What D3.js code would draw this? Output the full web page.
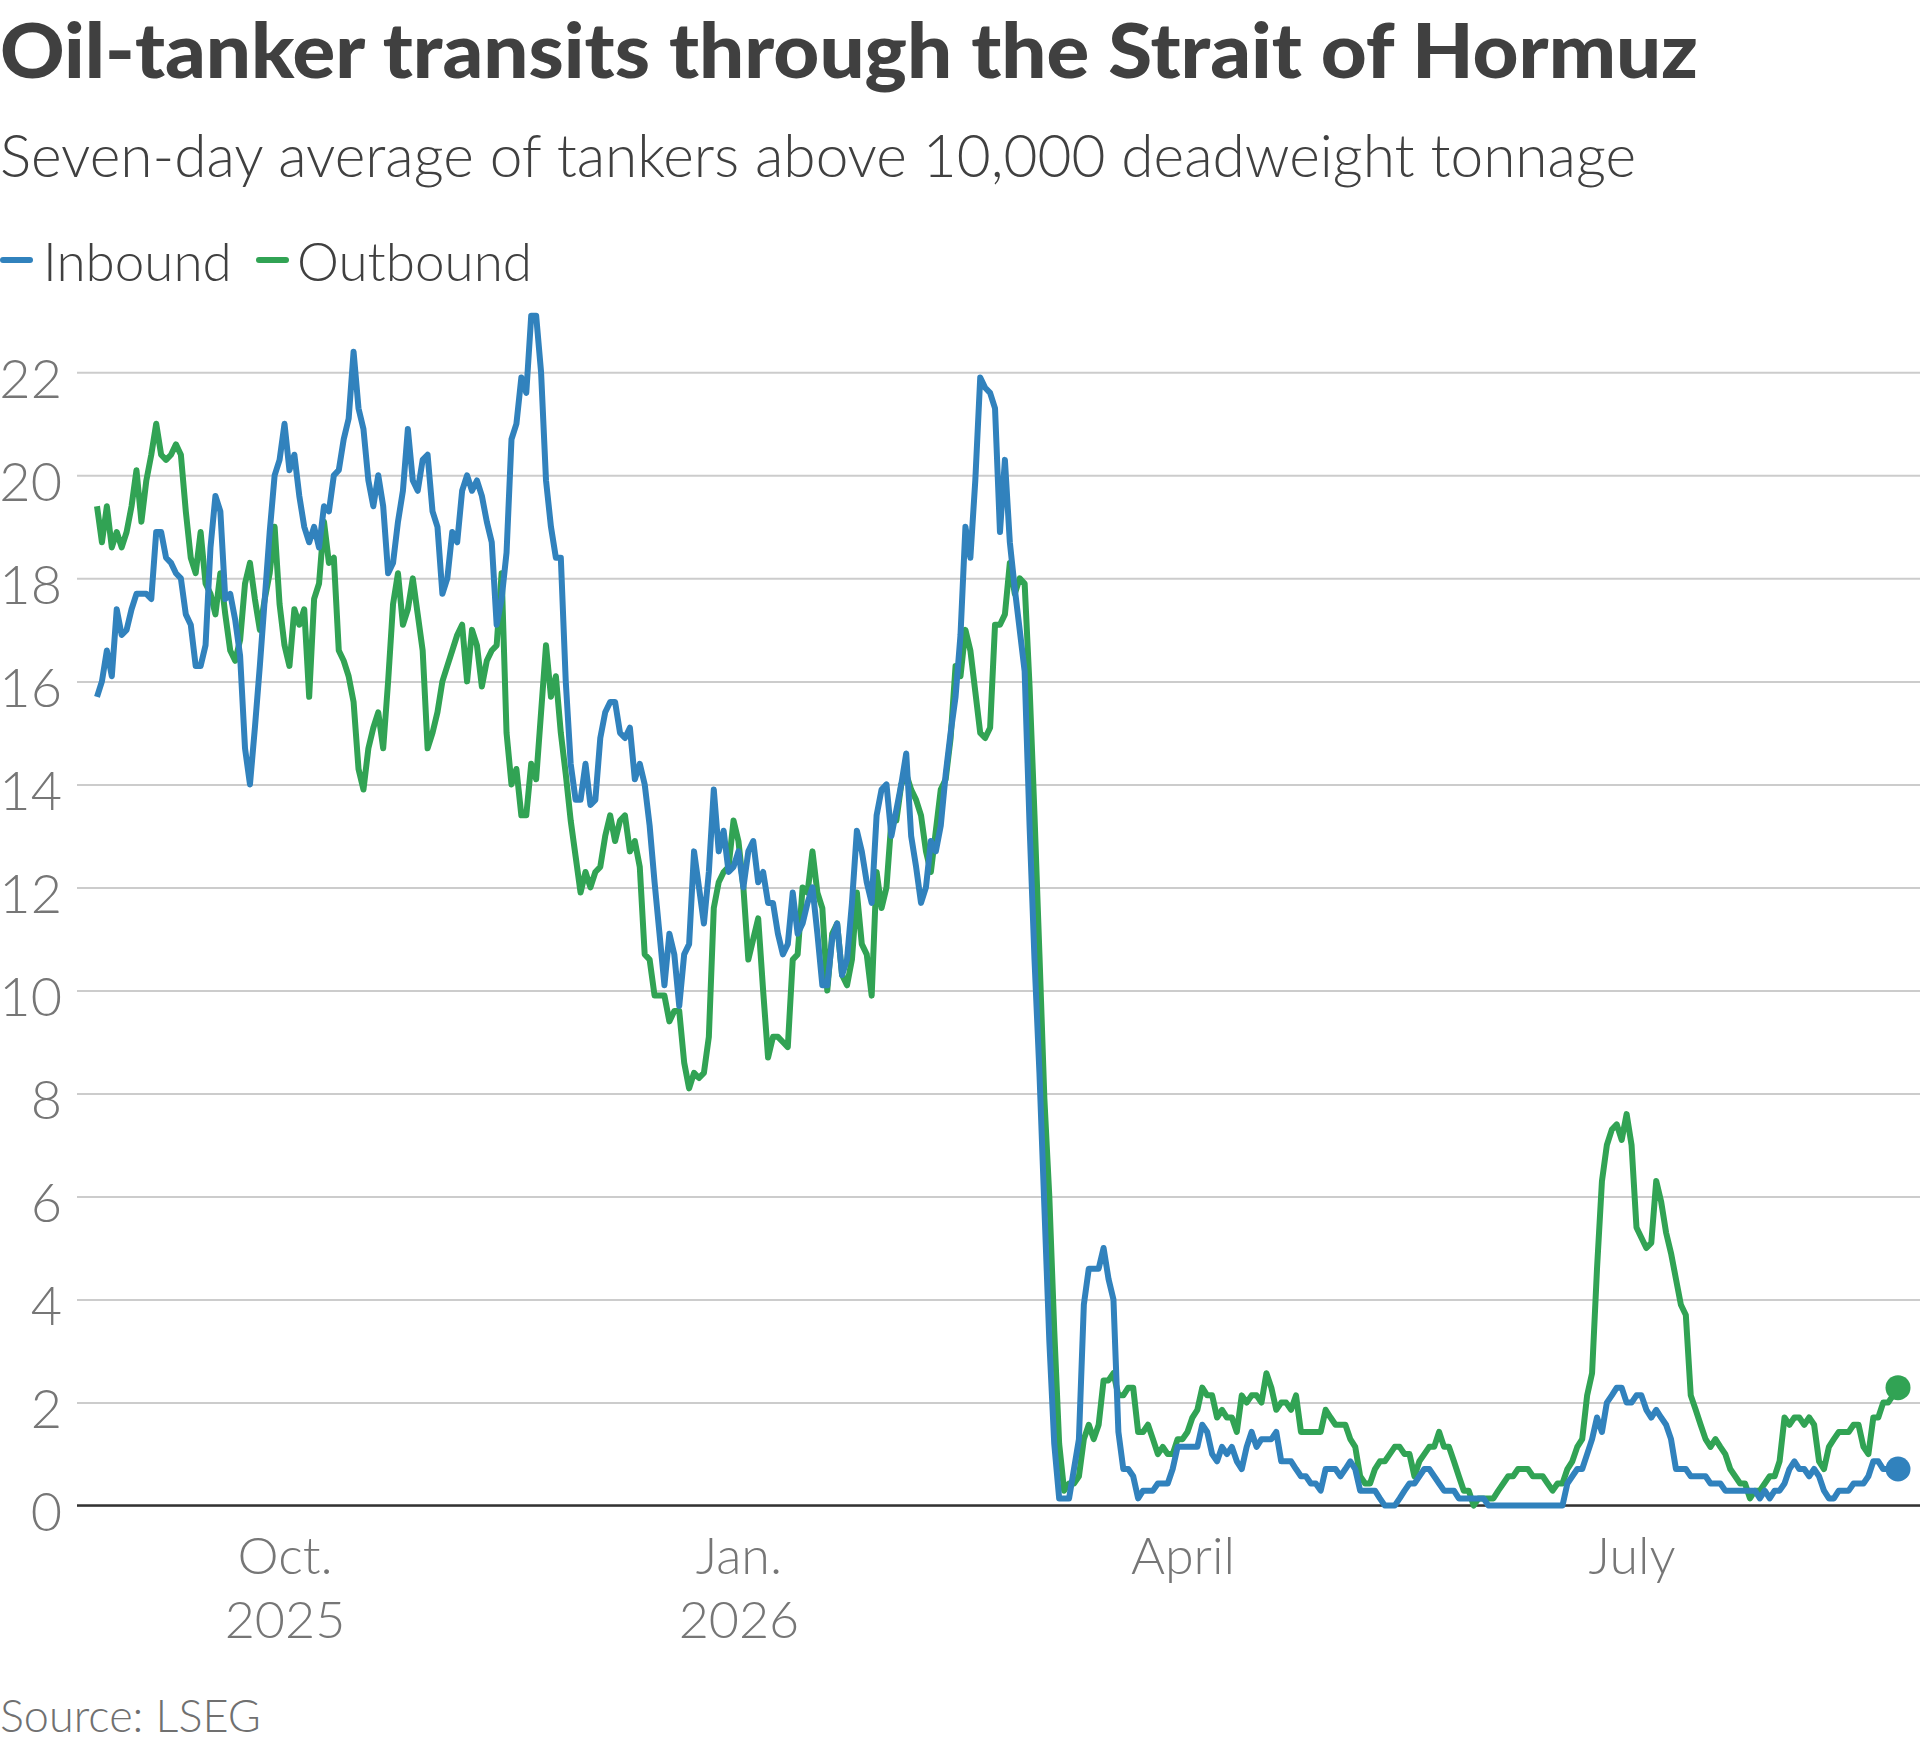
<!DOCTYPE html>
<html>
<head>
<meta charset="utf-8">
<script src="https://cdn.jsdelivr.net/npm/d3@7"></script>
<style>
  html, body { margin: 0; padding: 0; background: #fff; }
  svg { display: block; font-family: Lato, "Open Sans", sans-serif; }
</style>
</head>
<body>
<svg id="chart" width="1920" height="1747"></svg>
<script>
// seven-day averages, [day since start, tankers]
const startDate = new Date(2025, 7, 24);
const endDay = 365;

const inbound = [
  [0,15.7],[1,16.0],[2,16.6],[3,16.1],[4,17.4],[5,16.9],[6,17.0],[7,17.4],[8,17.7],[10,17.7],
  [11,17.6],[12,18.9],[13,18.9],[14,18.4],[15,18.3],[16,18.1],[17,18.0],[18,17.3],[19,17.1],[20,16.3],
  [21,16.3],[22,16.7],[23,18.6],[24,19.6],[25,19.3],[26,17.6],[27,17.7],[28,17.2],[29,16.5],[30,14.7],
  [31,14.0],[32,15.1],[33,16.3],[34,17.6],[35,18.9],[36,20.0],[37,20.3],[38,21.0],[39,20.1],[40,20.4],
  [41,19.6],[42,19.0],[43,18.7],[44,19.0],[45,18.6],[46,19.4],[47,19.3],[48,20.0],[49,20.1],[50,20.7],
  [51,21.1],[52,22.4],[53,21.3],[54,20.9],[55,19.9],[56,19.4],[57,20.0],[58,19.4],[59,18.1],[60,18.3],
  [61,19.1],[62,19.7],[63,20.9],[64,19.9],[65,19.7],[66,20.3],[67,20.4],[68,19.3],[69,19.0],[70,17.7],
  [71,18.0],[72,18.9],[73,18.7],[74,19.7],[75,20.0],[76,19.7],[77,19.9],[78,19.6],[79,19.1],[80,18.7],
  [81,17.1],[82,17.6],[83,18.5],[84,20.7],[85,21.0],[86,21.9],[87,21.6],[88,23.1],[89,23.1],[90,22.0],
  [91,19.9],[92,19.0],[93,18.4],[94,18.4],[95,16.0],[96,14.4],[97,13.7],[98,13.7],[99,14.4],[100,13.6],
  [101,13.7],[102,14.9],[103,15.4],[104,15.6],[105,15.6],[106,15.0],[107,14.9],[108,15.1],[109,14.1],[110,14.4],
  [111,14.0],[112,13.2],[113,12.1],[114,11.1],[115,10.1],[116,11.1],[117,10.7],[118,9.7],[119,10.7],[120,10.9],
  [121,12.7],[122,12.0],[123,11.3],[124,12.3],[125,13.9],[126,12.7],[127,13.1],[128,12.3],[129,12.4],[130,12.7],
  [131,12.0],[132,12.7],[133,12.9],[134,12.1],[135,12.3],[136,11.7],[137,11.7],[138,11.1],[139,10.7],[140,10.9],
  [141,11.9],[142,11.1],[143,11.3],[144,11.7],[145,12.0],[146,11.1],[147,10.1],[148,10.1],[149,11.0],[150,11.3],
  [151,10.3],[152,10.6],[153,11.7],[154,13.1],[155,12.7],[156,12.1],[157,11.7],[158,13.4],[159,13.9],[160,14.0],
  [161,13.0],[162,13.5],[163,14.0],[164,14.6],[165,13.0],[166,12.4],[167,11.7],[168,12.0],[169,12.9],[170,12.7],
  [171,13.2],[172,14.2],[173,15.0],[174,15.7],[175,16.9],[176,19.0],[177,18.4],[178,19.9],[179,21.9],[180,21.7],
  [181,21.6],[182,21.3],[183,18.9],[184,20.3],[185,18.7],[186,17.8],[187,17.0],[188,16.2],[189,13.2],[190,10.6],
  [191,8.4],[192,5.8],[193,3.2],[194,1.2],[195,0.14],[196,0.14],[197,0.14],[198,0.71],[199,1.29],[200,3.9],
  [201,4.6],[202,4.6],[203,4.6],[204,5.0],[205,4.4],[206,4.0],[207,1.43],[208,0.71],[209,0.71],[210,0.57],
  [211,0.14],[212,0.29],[213,0.29],[214,0.29],[215,0.43],[216,0.43],[217,0.43],[218,0.71],[219,1.14],[220,1.14],
  [221,1.14],[222,1.14],[223,1.14],[224,1.57],[225,1.43],[226,1.0],[227,0.86],[228,1.14],[229,1.0],[230,1.14],
  [231,0.86],[232,0.71],[233,1.14],[234,1.43],[235,1.14],[236,1.29],[237,1.29],[238,1.29],[239,1.43],[240,0.86],
  [241,0.86],[242,0.86],[243,0.71],[244,0.57],[245,0.57],[246,0.43],[247,0.43],[248,0.29],[249,0.71],[250,0.71],
  [251,0.71],[252,0.57],[253,0.71],[254,0.86],[255,0.71],[256,0.29],[257,0.29],[258,0.29],[259,0.29],[260,0.14],
  [261,0],[262,0],[263,0],[264,0.14],[265,0.29],[266,0.43],[267,0.43],[268,0.57],[269,0.71],[270,0.71],
  [271,0.57],[272,0.43],[273,0.29],[274,0.29],[275,0.29],[276,0.14],[277,0.14],[278,0.14],[279,0.14],[280,0.14],
  [281,0.14],[282,0],[283,0],[284,0],[285,0],[286,0],[287,0],[288,0],[289,0],[290,0],
  [291,0],[292,0],[293,0],[294,0],[295,0],[296,0],[297,0],[298,0.43],[299,0.57],[300,0.71],
  [301,0.71],[302,1.0],[303,1.29],[304,1.71],[305,1.43],[306,2.0],[307,2.14],[308,2.29],[309,2.29],[310,2.0],
  [311,2.0],[312,2.14],[313,2.14],[314,1.86],[315,1.71],[316,1.86],[317,1.71],[318,1.57],[319,1.29],[320,0.71],
  [321,0.71],[322,0.71],[323,0.57],[324,0.57],[325,0.57],[326,0.57],[327,0.43],[328,0.43],[329,0.43],[330,0.29],
  [331,0.29],[332,0.29],[333,0.29],[334,0.29],[335,0.29],[336,0.29],[337,0.14],[338,0.29],[339,0.14],[340,0.29],
  [341,0.29],[342,0.43],[343,0.71],[344,0.86],[345,0.71],[346,0.71],[347,0.57],[348,0.71],[349,0.57],[350,0.29],
  [351,0.14],[352,0.14],[353,0.29],[354,0.29],[355,0.29],[356,0.43],[357,0.43],[358,0.43],[359,0.57],[360,0.86],
  [361,0.86],[362,0.71],[363,0.71],[364,0.71],[365,0.71]
];

const outbound = [
  [0,19.4],[1,18.7],[2,19.4],[3,18.6],[4,18.9],[5,18.6],[6,18.9],[7,19.4],[8,20.1],[9,19.1],
  [10,19.9],[11,20.4],[12,21.0],[13,20.4],[14,20.3],[15,20.4],[16,20.6],[17,20.4],[18,19.3],[19,18.4],
  [20,18.1],[21,18.9],[22,17.9],[23,17.7],[24,17.3],[25,18.1],[26,17.3],[27,16.6],[28,16.4],[29,16.8],
  [30,17.9],[31,18.3],[32,17.6],[33,17.0],[34,17.6],[35,18.1],[36,19.0],[37,17.5],[38,16.7],[39,16.3],
  [40,17.4],[41,17.1],[42,17.4],[43,15.7],[44,17.6],[45,17.9],[46,19.1],[47,18.3],[48,18.4],[49,16.6],
  [50,16.4],[51,16.1],[52,15.6],[53,14.3],[54,13.9],[55,14.7],[56,15.1],[57,15.4],[58,14.7],[59,16.0],
  [60,17.5],[61,18.1],[62,17.1],[63,17.4],[64,18.0],[65,17.3],[66,16.6],[67,14.7],[68,15.0],[69,15.4],
  [70,16.0],[71,16.3],[72,16.6],[73,16.9],[74,17.1],[75,16.0],[76,17.0],[77,16.7],[78,15.9],[79,16.4],
  [80,16.6],[81,16.7],[82,18.1],[83,15.0],[84,14.0],[85,14.3],[86,13.4],[87,13.4],[88,14.4],[89,14.1],
  [90,15.4],[91,16.7],[92,15.7],[93,16.1],[94,15.0],[95,14.2],[96,13.3],[97,12.6],[98,11.9],[99,12.3],
  [100,12.0],[101,12.3],[102,12.4],[103,13.0],[104,13.4],[105,12.9],[106,13.3],[107,13.4],[108,12.7],[109,12.9],
  [110,12.4],[111,10.7],[112,10.6],[113,9.9],[114,9.9],[115,9.9],[116,9.4],[117,9.6],[118,9.6],[119,8.6],
  [120,8.1],[121,8.4],[122,8.3],[123,8.4],[124,9.1],[125,11.6],[126,12.1],[127,12.3],[128,12.4],[129,13.3],
  [130,12.9],[131,12.0],[132,10.6],[133,11.0],[134,11.4],[135,10.0],[136,8.7],[137,9.1],[138,9.1],[139,9.0],
  [140,8.9],[141,10.6],[142,10.7],[143,12.0],[144,11.9],[145,12.7],[146,11.9],[147,11.6],[148,10.0],[149,11.1],
  [150,11.3],[151,10.3],[152,10.1],[153,10.6],[154,11.9],[155,10.9],[156,10.7],[157,9.9],[158,12.3],[159,11.6],
  [160,12.0],[161,13.3],[162,13.3],[163,14.0],[164,14.2],[165,13.9],[166,13.7],[167,13.4],[168,12.7],[169,12.3],
  [171,13.9],[172,14.1],[173,14.9],[174,16.3],[175,16.1],[176,17.0],[177,16.6],[178,15.8],[179,15.0],[180,14.9],
  [181,15.1],[182,17.1],[183,17.1],[184,17.3],[185,18.3],[186,17.7],[187,18.0],[188,17.9],[189,15.9],[190,13.4],
  [191,10.7],[192,7.9],[193,6.0],[194,3.4],[195,1.2],[196,0.29],[197,0.43],[198,0.43],[199,0.57],[200,1.29],
  [201,1.57],[202,1.29],[203,1.57],[204,2.43],[205,2.43],[206,2.57],[207,2.14],[208,2.14],[209,2.29],[210,2.29],
  [211,1.43],[212,1.43],[213,1.57],[214,1.29],[215,1.0],[216,1.14],[217,1.0],[218,1.0],[219,1.29],[220,1.29],
  [221,1.43],[222,1.71],[223,1.86],[224,2.29],[225,2.14],[226,2.14],[227,1.71],[228,1.86],[229,1.71],[230,1.71],
  [231,1.43],[232,2.14],[233,2.0],[234,2.14],[235,2.14],[236,2.0],[237,2.57],[238,2.29],[239,1.86],[240,2.0],
  [241,2.0],[242,1.86],[243,2.14],[244,1.43],[245,1.43],[246,1.43],[247,1.43],[248,1.43],[249,1.86],[250,1.71],
  [251,1.57],[252,1.57],[253,1.57],[254,1.29],[255,1.14],[256,0.57],[257,0.43],[258,0.43],[259,0.71],[260,0.86],
  [261,0.86],[262,1.0],[263,1.14],[264,1.14],[265,1.0],[266,1.0],[267,0.57],[268,0.86],[269,1.0],[270,1.14],
  [271,1.14],[272,1.43],[273,1.14],[274,1.14],[275,0.86],[276,0.57],[277,0.29],[278,0.29],[279,0],[280,0.14],
  [281,0.14],[282,0.14],[283,0.14],[284,0.29],[285,0.43],[286,0.57],[287,0.57],[288,0.71],[289,0.71],[290,0.71],
  [291,0.57],[292,0.57],[293,0.57],[294,0.43],[295,0.29],[296,0.43],[297,0.43],[298,0.71],[299,0.86],[300,1.14],
  [301,1.29],[302,2.14],[303,2.57],[304,4.6],[305,6.3],[306,7.0],[307,7.3],[308,7.4],[309,7.1],[310,7.6],
  [311,7.0],[312,5.4],[313,5.2],[314,5.0],[315,5.1],[316,6.3],[317,5.9],[318,5.3],[319,4.9],[320,4.4],
  [321,3.9],[322,3.7],[323,2.14],[324,1.86],[325,1.57],[326,1.29],[327,1.14],[328,1.29],[329,1.14],[330,1.0],
  [331,0.71],[332,0.57],[333,0.43],[334,0.43],[335,0.14],[336,0.29],[337,0.29],[338,0.43],[339,0.57],[340,0.57],
  [341,0.86],[342,1.71],[343,1.57],[344,1.71],[345,1.71],[346,1.57],[347,1.71],[348,1.57],[349,0.86],[350,0.71],
  [351,1.14],[352,1.29],[353,1.43],[354,1.43],[355,1.43],[356,1.57],[357,1.57],[358,1.14],[359,1.0],[360,1.71],
  [361,1.71],[362,2.0],[363,2.0],[364,2.14],[365,2.29]
];

const yTicks = [0, 2, 4, 6, 8, 10, 12, 14, 16, 18, 20, 22];
const xTicks = [new Date(2025, 9, 1), new Date(2026, 0, 1), new Date(2026, 3, 1), new Date(2026, 6, 1)];
const xTickLabels = [["Oct.", "2025"], ["Jan.", "2026"], ["April", ""], ["July", ""]];

const series = [
  { name: "Outbound", color: "#31a354", data: outbound },
  { name: "Inbound", color: "#3182bd", data: inbound }
];

const svg = d3.select("#chart");
const gridLeft = 77, gridRight = 1920;

const x = d3.scaleTime()
  .domain([startDate, d3.timeDay.offset(startDate, endDay)])
  .range([97, 1898]);

const y = d3.scaleLinear()
  .domain([0, 22])
  .range([1505.6, 372.3]);

const toDate = d => d3.timeDay.offset(startDate, d[0]);

// squeeze a text to a given width when the local font runs wider
function fitText(sel, w) {
  const len = sel.node().getComputedTextLength();
  if (Math.abs(len - w) / w > 0.015) {
    sel.attr("textLength", w).attr("lengthAdjust", "spacingAndGlyphs");
  }
}

// title block
svg.append("text")
  .attr("x", 0).attr("y", 78)
  .style("font-size", "76px").style("font-weight", 900)
  .attr("fill", "#404040")
  .text("Oil-tanker transits through the Strait of Hormuz")
  .call(fitText, 1698);

svg.append("text")
  .attr("x", 0).attr("y", 177)
  .style("font-size", "60px").style("font-weight", 300)
  .attr("fill", "#404040")
  .text("Seven-day average of tankers above 10,000 deadweight tonnage")
  .call(fitText, 1636);

// legend
const legend = [
  { name: "Inbound", color: "#3182bd", lx: 3, tx: 43 },
  { name: "Outbound", color: "#31a354", lx: 259, tx: 297 }
];
legend.forEach(l => {
  svg.append("line")
    .attr("x1", l.lx).attr("x2", l.lx + 27)
    .attr("y1", 260).attr("y2", 260)
    .attr("stroke", l.color).attr("stroke-width", 6)
    .attr("stroke-linecap", "round");
  svg.append("text")
    .attr("x", l.tx).attr("y", 281)
    .style("font-size", "53px").style("font-weight", 300)
    .attr("fill", "#404040")
    .text(l.name);
});

// y axis with gridlines
const yAxis = svg.append("g")
  .attr("transform", `translate(${gridLeft},0)`)
  .call(d3.axisLeft(y).tickValues(yTicks).tickSize(-(gridRight - gridLeft)).tickPadding(15));

yAxis.select(".domain").remove();
yAxis.selectAll(".tick line")
  .attr("stroke", "#cccccc").attr("stroke-width", 2);
yAxis.selectAll(".tick text")
  .attr("dy", "0.46em")
  .attr("fill", "#767676")
  .style("font-size", "54px").style("font-weight", 300)
  .style("font-family", "Lato, 'Open Sans', sans-serif");

// zero line
svg.append("line")
  .attr("x1", gridLeft).attr("x2", gridRight)
  .attr("y1", y(0)).attr("y2", y(0))
  .attr("stroke", "#333333").attr("stroke-width", 2.5);

// x axis labels
const xAxis = svg.append("g")
  .attr("transform", `translate(0,${y(0)})`)
  .call(d3.axisBottom(x).tickValues(xTicks).tickSize(0).tickFormat(""));
xAxis.select(".domain").remove();
xAxis.selectAll(".tick").each(function(d, i) {
  const t = d3.select(this).append("text")
    .attr("fill", "#767676")
    .attr("text-anchor", "middle")
    .style("font-size", "52px").style("font-weight", 300)
    .style("font-family", "Lato, 'Open Sans', sans-serif");
  t.append("tspan").attr("x", 0).attr("y", 68).text(xTickLabels[i][0]);
  t.append("tspan").attr("x", 0).attr("y", 132).text(xTickLabels[i][1]);
});

// lines
const line = d3.line()
  .x(d => x(toDate(d)))
  .y(d => y(d[1]));

series.forEach(s => {
  svg.append("path")
    .datum(s.data)
    .attr("fill", "none")
    .attr("stroke", s.color)
    .attr("stroke-width", 6)
    .attr("stroke-linejoin", "round")
    .attr("d", line);
});

// end dots
series.forEach(s => {
  const last = s.data[s.data.length - 1];
  svg.append("circle")
    .attr("cx", x(toDate(last)))
    .attr("cy", y(last[1]))
    .attr("r", 12.5)
    .attr("fill", s.color);
});

// source
svg.append("text")
  .attr("x", 0).attr("y", 1732)
  .style("font-size", "45px").style("font-weight", 300)
  .attr("fill", "#707070")
  .text("Source: LSEG");
</script>
</body>
</html>
